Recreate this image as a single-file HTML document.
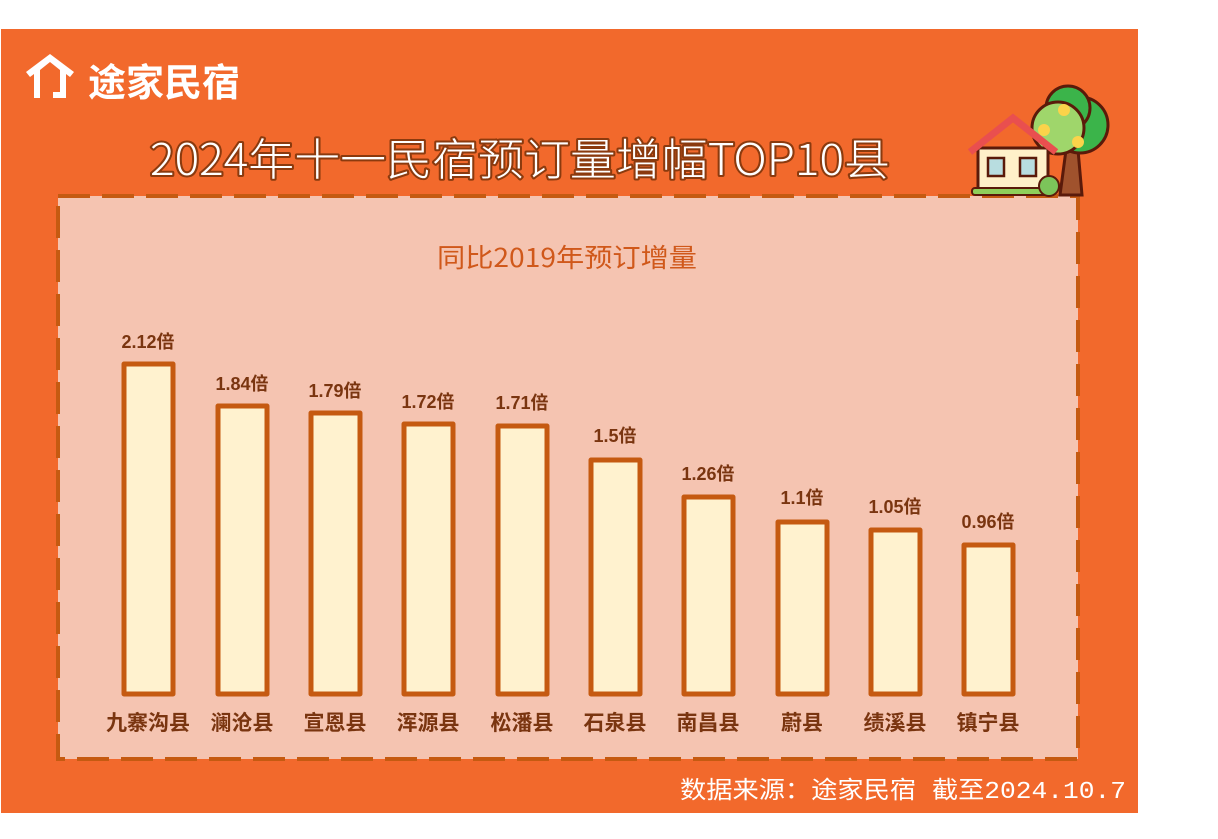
<!DOCTYPE html>
<html><head><meta charset="utf-8"><style>
body{margin:0;width:1218px;height:839px;background:#fff;overflow:hidden}
svg{display:block}
</style></head><body>
<svg width="1218" height="839" viewBox="0 0 1218 839" xmlns="http://www.w3.org/2000/svg" font-family="Liberation Sans, Noto Sans CJK SC, sans-serif">
<rect x="1" y="29" width="1137" height="784" fill="#f2692c"/>
<!-- logo -->
<path d="M26 72 L50 54 L74 72 L70 77 L66 74 L66 98 L53 98 L53 92 L60 92 L60 70 L50 62 L40 70 L40 98 L34 98 L34 74 L30 77 Z" fill="#fff"/>
<text x="88" y="96" font-size="38" font-weight="bold" fill="#fff" font-family="Noto Sans CJK SC, sans-serif">途家民宿</text>
<!-- title -->
<text x="520" y="175" text-anchor="middle" font-size="44" font-weight="200" fill="#fff" stroke="#8b3a0e" stroke-width="4" paint-order="stroke" stroke-linejoin="round" font-family="Noto Sans CJK SC, sans-serif" textLength="740" lengthAdjust="spacingAndGlyphs">2024年十一民宿预订量增幅TOP10县</text>
<!-- panel -->
<rect x="58" y="196" width="1020" height="563" fill="#f5c4b1"/>
<rect x="58" y="196" width="1020" height="563" fill="none" stroke="#c55a11" stroke-width="4" stroke-dasharray="32 12"/>
<!-- house -->
<g stroke="#5a1a0a" stroke-width="3">
<path d="M1060 195 L1066 150 L1078 150 L1082 195 Z" fill="#a0522d"/>
<circle cx="1080" cy="125" r="28" fill="#3bb44a"/>
<circle cx="1068" cy="108" r="22" fill="#3bb44a"/>
<circle cx="1058" cy="128" r="26" fill="#9fd66b"/>
<rect x="978" y="148" width="70" height="44" fill="#fff0c9"/>
<path d="M970 152 L1013 118 L1056 152" fill="none" stroke="#e94f4f" stroke-width="7"/>
<rect x="988" y="158" width="16" height="18" fill="#b8dde0" stroke-width="2.5"/>
<rect x="1020" y="158" width="16" height="18" fill="#b8dde0" stroke-width="2.5"/>
<rect x="972" y="188" width="76" height="7" rx="3" fill="#8fcf5a" stroke-width="2"/>
<circle cx="1049" cy="186" r="10" fill="#7cc45a" stroke-width="2"/>
</g>
<circle cx="1064" cy="110" r="6" fill="#fbd34a"/><circle cx="1044" cy="130" r="6" fill="#fbd34a"/><circle cx="1078" cy="142" r="6" fill="#fbd34a"/>
<!-- subtitle -->
<text x="567" y="267" text-anchor="middle" font-size="26" fill="#d0581a" font-family="Noto Sans CJK SC, sans-serif" textLength="260" lengthAdjust="spacingAndGlyphs">同比2019年预订增量</text>
<!-- bars -->
<g fill="#fff2cf" stroke="#c55a11" stroke-width="5" stroke-linejoin="round">
<rect x="124" y="364" width="49" height="330"/>
<rect x="218" y="406" width="49" height="288"/>
<rect x="311" y="413" width="49" height="281"/>
<rect x="404" y="424" width="49" height="270"/>
<rect x="498" y="426" width="49" height="268"/>
<rect x="591" y="460" width="49" height="234"/>
<rect x="684" y="497" width="49" height="197"/>
<rect x="778" y="522" width="49" height="172"/>
<rect x="871" y="530" width="49" height="164"/>
<rect x="964" y="545" width="49" height="149"/>
</g>
<g font-size="18" font-weight="bold" fill="#7a3510" text-anchor="middle" font-family="Liberation Sans, Noto Sans CJK SC, sans-serif">
<text x="148" y="348">2.12倍</text>
<text x="242" y="390">1.84倍</text>
<text x="335" y="397">1.79倍</text>
<text x="428" y="408">1.72倍</text>
<text x="522" y="409">1.71倍</text>
<text x="615" y="442">1.5倍</text>
<text x="708" y="480">1.26倍</text>
<text x="802" y="504">1.1倍</text>
<text x="895" y="513">1.05倍</text>
<text x="988" y="528">0.96倍</text>
</g>
<g font-size="21" font-weight="bold" fill="#7a3510" text-anchor="middle" font-family="Noto Sans CJK SC, sans-serif">
<text x="148" y="730">九寨沟县</text>
<text x="242" y="730">澜沧县</text>
<text x="335" y="730">宣恩县</text>
<text x="428" y="730">浑源县</text>
<text x="522" y="730">松潘县</text>
<text x="615" y="730">石泉县</text>
<text x="708" y="730">南昌县</text>
<text x="802" y="730">蔚县</text>
<text x="895" y="730">绩溪县</text>
<text x="988" y="730">镇宁县</text>
</g>
<text x="680" y="798" font-size="24" fill="#fff" font-family="Liberation Mono, Noto Sans CJK SC, monospace" textLength="446" lengthAdjust="spacingAndGlyphs">数据来源：途家民宿 截至2024.10.7</text>
</svg>
</body></html>
